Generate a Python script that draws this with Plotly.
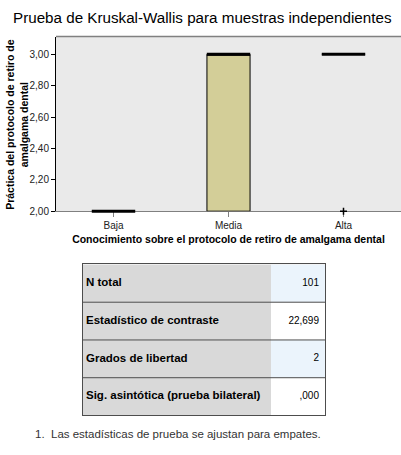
import plotly.graph_objects as go

# Grupos de conocimiento y resumen de la práctica por grupo
categorias = ["Baja", "Media", "Alta"]
q1 = [2.0, 2.0, 3.0]
mediana = [2.0, 3.0, 3.0]
q3 = [2.0, 3.0, 3.0]
lim_inf = [2.0, 2.0, 3.0]
lim_sup = [2.0, 3.0, 3.0]

# Valores atípicos
atipico_x = ["Alta"]
atipico_y = [2.0]

# Resumen de la prueba
etiquetas = ["N total", "Estadístico de contraste", "Grados de libertad",
             "Sig. asintótica (prueba bilateral)"]
valores = ["101", "22,699", "2", ",000"]

W, H = 401, 455
FONT = "Liberation Sans, Arial, sans-serif"
CAJA = "#D3CE98"
FONDO = "#EAEAEA"
GRIS_ETQ = "#D9D9D9"
AZUL = "#EBF4FC"
LINEA_TABLA = "#4D4D4D"

# Anchos de columna y márgenes internos de la tabla (px)
ANCHO_ETQ, ANCHO_VAL = 188, 54
ANCHO_TABLA = ANCHO_ETQ + ANCHO_VAL
PAD_IZQ, PAD_DER = 3, 6


def px_x(a, b):
    return [a / W, b / W]


def px_y(top, bottom):
    return [1 - bottom / H, 1 - top / H]


fig = go.Figure()

# ---- Diagrama de cajas ----
fig.add_trace(go.Box(
    x=categorias, q1=q1, median=mediana, q3=q3,
    lowerfence=lim_inf, upperfence=lim_sup,
    fillcolor=CAJA, line=dict(color="black", width=1),
    width=0.375, whiskerwidth=0, boxpoints=False,
    hoverinfo="skip", showlegend=False,
))

# Medianas con trazo grueso (line-ew mide 1.4 veces el tamaño)
fig.add_trace(go.Scatter(
    x=categorias, y=mediana, mode="markers",
    marker=dict(symbol="line-ew", size=31, color="black",
                line=dict(color="black", width=3)),
    cliponaxis=False, showlegend=False, hoverinfo="skip",
))

fig.add_trace(go.Scatter(
    x=atipico_x, y=atipico_y, mode="markers",
    marker=dict(symbol="cross-thin-open", size=5, color="black",
                line=dict(color="black", width=1.5)),
    cliponaxis=False, showlegend=False, hoverinfo="skip",
))

# ---- Tabla de resumen en un segundo par de ejes ----
filas = list(range(len(etiquetas)))
fill_val = [AZUL if i % 2 == 0 else "#FFFFFF" for i in filas]

fig.add_trace(go.Bar(
    y=filas, x=[ANCHO_ETQ] * len(filas), base=0, orientation="h", width=1,
    marker=dict(color=GRIS_ETQ, line=dict(width=0)),
    xaxis="x2", yaxis="y2", showlegend=False, hoverinfo="skip",
))
fig.add_trace(go.Bar(
    y=filas, x=[ANCHO_VAL] * len(filas), base=ANCHO_ETQ, orientation="h", width=1,
    marker=dict(color=fill_val, line=dict(width=0)),
    xaxis="x2", yaxis="y2", showlegend=False, hoverinfo="skip",
))

# Separadores horizontales entre filas
sep_x, sep_y = [], []
for i in filas[:-1]:
    sep_x += [0, ANCHO_TABLA, None]
    sep_y += [i + 0.5, i + 0.5, None]
fig.add_trace(go.Scatter(
    x=sep_x, y=sep_y, mode="lines",
    line=dict(color=LINEA_TABLA, width=1),
    xaxis="x2", yaxis="y2", showlegend=False, hoverinfo="skip",
))

fig.add_trace(go.Scatter(
    x=[PAD_IZQ] * len(filas), y=filas, mode="text",
    text=["<b>%s</b>" % e for e in etiquetas], textposition="middle right",
    textfont=dict(family=FONT, size=11.5, color="black"),
    xaxis="x2", yaxis="y2", showlegend=False, hoverinfo="skip",
    cliponaxis=False,
))
fig.add_trace(go.Scatter(
    x=[ANCHO_TABLA - PAD_DER] * len(filas), y=filas, mode="text",
    text=valores, textposition="middle left",
    textfont=dict(family=FONT, size=10, color="black"),
    xaxis="x2", yaxis="y2", showlegend=False, hoverinfo="skip",
    cliponaxis=False,
))

fig.update_layout(
    width=W, height=H,
    margin=dict(l=0, r=0, t=0, b=0),
    paper_bgcolor="white",
    plot_bgcolor=FONDO,
    separators=",.",
    barmode="overlay",
    font=dict(family=FONT, size=10, color="black"),
    xaxis=dict(
        domain=px_x(56, 401),
        range=[-0.5, 2.5],
        type="category",
        showgrid=False, zeroline=False,
        showline=True, linecolor="#808080", linewidth=1,
        layer="below traces",
        ticks="outside", ticklen=5, tickcolor="#808080",
        tickfont=dict(size=10, color="#222"),
        title=dict(text="<b>Conocimiento sobre el protocolo de retiro de amalgama dental</b>",
                   font=dict(size=10.5), standoff=5),
        anchor="y",
    ),
    yaxis=dict(
        domain=px_y(37, 214),
        range=[2.0, 3.113],
        tickvals=[2.0, 2.2, 2.4, 2.6, 2.8, 3.0],
        tickformat=".2f",
        showgrid=False, zeroline=False,
        showline=True, linecolor="black", linewidth=1,
        layer="below traces",
        ticks="outside", ticklen=4, tickcolor="black",
        tickfont=dict(size=10, color="#222"),
        anchor="x",
    ),
    xaxis2=dict(
        domain=px_x(83, 325), range=[0, ANCHO_TABLA],
        showgrid=False, zeroline=False, showticklabels=False, ticks="",
        showline=True, mirror=True, linecolor=LINEA_TABLA, linewidth=1,
        anchor="y2",
    ),
    yaxis2=dict(
        domain=px_y(268, 421), range=[len(filas) - 0.5, -0.5],
        showgrid=False, zeroline=False, showticklabels=False, ticks="",
        showline=True, mirror=True, linecolor=LINEA_TABLA, linewidth=1,
        anchor="x2",
    ),
    shapes=[dict(type="line", xref="paper", yref="paper",
                 x0=56 / W, x1=1, y0=1 - 37 / H, y1=1 - 37 / H,
                 line=dict(color="#808080", width=1.5))],
    annotations=[
        dict(text="Prueba de Kruskal-Wallis para muestras independientes",
             xref="paper", yref="paper", x=202 / W, y=1 - 18 / H,
             xanchor="center", yanchor="middle", showarrow=False,
             font=dict(size=15.2, color="black")),
        dict(text="<b>Práctica del protocolo de retiro de<br>amalgama dental</b>",
             xref="paper", yref="paper", x=17.5 / W, y=1 - 126 / H,
             xanchor="center", yanchor="middle", showarrow=False,
             textangle=-90, font=dict(size=10.5, color="black")),
        dict(text="1.  Las estadísticas de prueba se ajustan para empates.",
             xref="paper", yref="paper", x=33 / W, y=1 - 440 / H,
             xanchor="left", yanchor="middle", showarrow=False,
             font=dict(size=11.5, color="#333")),
    ],
)

fig.write_html("out.html")
